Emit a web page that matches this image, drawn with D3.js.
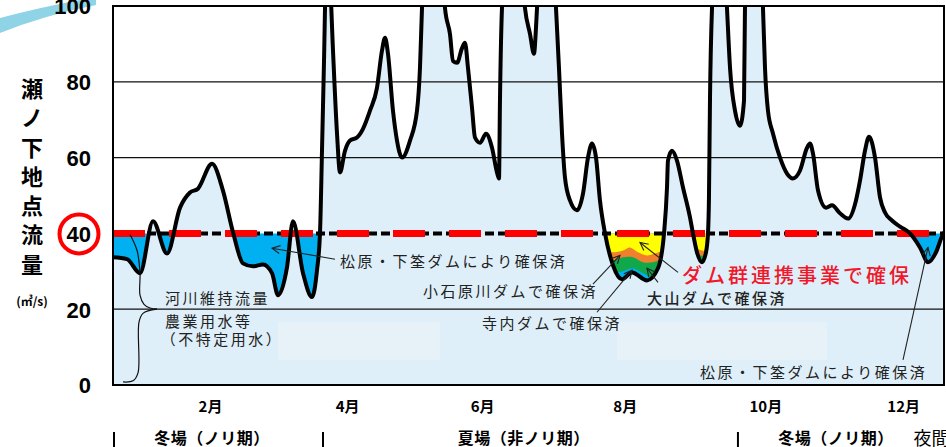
<!DOCTYPE html>
<html><head><meta charset="utf-8">
<script src="https://cdn.jsdelivr.net/npm/d3@7"></script>
<style>
body{margin:0;background:#fff;overflow:hidden;}
svg{display:block;}
</style></head><body>
<svg id="c" width="946" height="447"></svg>
<script>
// ---- data (x in months from Jan 1, 0..12; y in m3/s) ----
const flowT = [0,0.202,0.390,0.578,0.780,0.968,1.112,1.227,1.430,1.588,1.733,1.877,2.022,2.166,2.296,2.383,2.513,2.599,2.744,2.874,2.946,2.989,3.018,3.047,3.076,3.105,3.134,3.177,3.235,3.278,3.350,3.422,3.523,3.610,3.711,3.812,3.884,3.928,3.971,4.043,4.101,4.173,4.289,4.390,4.433,4.462,4.505,4.621,4.736,4.794,4.866,4.910,4.968,5.040,5.083,5.126,5.184,5.227,5.300,5.386,5.473,5.545,5.574,5.588,5.617,5.690,5.776,5.877,5.949,6.022,6.079,6.108,6.123,6.195,6.267,6.339,6.397,6.440,6.484,6.527,6.599,6.700,6.787,6.859,6.917,6.975,7.032,7.105,7.220,7.350,7.495,7.711,7.870,7.957,8.000,8.014,8.072,8.144,8.231,8.332,8.375,8.433,8.505,8.563,8.592,8.606,8.621,8.650,8.708,8.765,8.823,8.866,8.910,8.982,9.054,9.112,9.126,9.199,9.256,9.329,9.386,9.415,9.458,9.531,9.632,9.733,9.819,9.921,10.022,10.065,10.108,10.181,10.296,10.383,10.498,10.614,10.729,10.787,10.859,10.917,11.004,11.076,11.148,11.249,11.365,11.509,11.653,11.769,11.884,11.971,12.0];
const flowV = [33.7,33.2,29.5,43.2,34.7,46.8,50.8,51.8,58.4,51.3,40.3,32.1,31.3,31.8,29.5,23.7,31.1,43.2,29.5,23.2,30.3,40,61.8,85.5,109,112,106.6,88.2,66.3,56.1,61.8,64.5,65.3,67.6,72.4,78.4,88.2,91.6,87.4,72.4,64.5,60,64.5,72.4,83.7,99.5,117,125,117,99.5,92.6,85.5,85.0,88.9,90.3,83.7,73.2,65.3,63.9,66.3,62.6,56.1,54.5,75,99.5,117,122,117,99.5,92.6,87.4,94.2,99.5,117,119.7,117,99.5,83.7,66.3,54.7,48.7,46.1,50.5,60,63.7,60,48.7,40,31.6,27.9,29.7,27.6,30.8,40,52.1,59.2,61.8,59.2,52.1,44.2,40,35,32.4,35,40,49.5,75.8,99.5,114.5,117,114.5,99.5,83.7,72.4,68.4,75,99.5,117,119.7,117,99.5,83.7,72.4,66.3,60,55.8,54.5,56.6,62.6,63.7,61.1,51.3,46.8,47.4,45.3,43.9,48.7,53.9,61.8,65.5,60,49.5,45.5,43.4,41.8,40,36.3,32.4,35,39.2,40.3];

const targetFlow = 40;

// dam supplement band tops (August shortage)
const orangeT = [7.0,7.105,7.206,7.365,7.466,7.581,7.711,7.827,7.957,8.2,8.303,8.404,8.505,8.621,8.7];
const orangeV = [35.5,35.5,35,35.5,36.3,35,34.2,34.7,35.5,35.5,35.5,36.1,35.5,35.5,35.5];
const greenT = [7.0,7.105,7.206,7.365,7.509,7.653,7.798,7.957,8.2,8.332,8.477,8.621,8.7];
const greenV = [33.4,33.4,32.9,33.7,33.7,32.4,32.4,33.4,33.9,33.9,34.2,33.9,33.9];
const blueT = [7.0,7.105,7.264,7.408,7.509,7.653,7.798,7.957,8.2,8.7];
const blueV = [30.3,30.3,29.7,30.3,30.8,29.5,28.4,29.7,20,20];
const bandRange = [7.0, 8.7];

const yTicks = [0,20,40,60,80,100];
const monthTickPos = [1.40,3.38,5.33,7.39,9.42,11.41];
const monthLabels = ["2月","4月","6月","8月","10月","12月"];

const seasonLabels = ["冬場（ノリ期）","夏場（非ノリ期）","冬場（ノリ期）"];
const seasonCenters = [1.43,5.93,10.44];
const seasonBars = [0,3.018,9.01];

const yTitleChars = ["瀬","ノ","下","地","点","流","量"];

const noteTexts = ["松原・下筌ダムにより確保済","小石原川ダムで確保済","寺内ダムで確保済","ダム群連携事業で確保","大山ダムで確保済","松原・下筌ダムにより確保済","河川維持流量","農業用水等","（不特定用水）"];
const noteT = [3.278,4.477,5.329,8.217,7.711,8.477,0.751,0.751,0.69];
const noteV = [32.6,24.7,16.1,28.9,22.9,3.2,22.9,16.8,12.1];

const arrowFromT = [3.206,6.931,6.989,8.159,7.870,11.408];
const arrowFromV = [33.2,26.6,19.2,29.7,27.1,6.6];
const arrowToT = [2.296,7.321,7.495,7.610,7.711,11.769];
const arrowToV = [36.1,34.2,30.3,37.6,30.8,36.3];

const braceUpperT = [0.245,0.347,0.390,0.390,0.448,0.534,0.635];
const braceUpperV = [39.7,35.5,29.5,23.7,21.3,20.3,20.0];
const braceLowerT = [0.635,0.433,0.375,0.361,0.289,0.144];
const braceLowerV = [20,18.9,16.6,3.2,1.1,0.8];

const boxT0 = [2.383,7.278], boxT1 = [4.722,10.31], boxV0 = [6.6,6.6], boxV1 = [16.6,16.6];

// ---- drawing ----
const svg = d3.select("#c");
const x = d3.scaleLinear().domain([0,12]).range([113,944]);
const y = d3.scaleLinear().domain([0,100]).range([385,6]);
const CJK = "'Noto Sans CJK JP','Noto Sans',sans-serif";

const flow = flowT.map((t,i)=>({t, v:flowV[i]}));
const defs = svg.append("defs");
defs.append("clipPath").attr("id","plot").append("rect")
  .attr("x",x(0)).attr("y",y(100)).attr("width",x(12)-x(0)).attr("height",y(0)-y(100));
const curve = d3.curveMonotoneX;
defs.append("clipPath").attr("id","above").append("path")
  .attr("d", d3.area().x(d=>x(d.t)).y0(y(130)).y1(d=>y(d.v)).curve(curve)(flow));
defs.append("marker").attr("id","arr").attr("viewBox","-10 -6 12 12")
  .attr("markerWidth",12).attr("markerHeight",12).attr("markerUnits","userSpaceOnUse")
  .attr("refX",0).attr("refY",0).attr("orient","auto")
  .append("path").attr("d","M-8,-4L0,0L-8,4").attr("fill","none").attr("stroke","#222").attr("stroke-width",1.1);

// decorative swoosh
svg.append("path").attr("d","M0,18 Q45,6 96,-3 L96,5 Q45,15 0,33 Z").attr("fill","#8fd3e7");

const plot = svg.append("g").attr("clip-path","url(#plot)");
plot.append("rect").attr("x",x(0)).attr("y",y(100)).attr("width",x(12)-x(0)).attr("height",y(0)-y(100)).attr("fill","#fff");
plot.append("path").attr("fill","#deeff9")
  .attr("d", d3.area().x(d=>x(d.t)).y0(y(0)).y1(d=>y(d.v)).curve(curve)(flow));

// faint boxes
plot.selectAll(".box").data(boxT0).join("rect")
  .attr("x",(d,i)=>x(boxT0[i])).attr("width",(d,i)=>x(boxT1[i])-x(boxT0[i]))
  .attr("y",(d,i)=>y(boxV1[i])).attr("height",(d,i)=>y(boxV0[i])-y(boxV1[i]))
  .attr("fill","#e6f2f8");

// shortage fills (above curve, below 40)
const short = plot.append("g").attr("clip-path","url(#above)");
short.append("path").attr("fill","#00b0f0")
  .attr("d", d3.area().x(d=>x(d)).y0(y(0)).y1(y(targetFlow))([0,12]));
short.append("path").attr("fill","#ffff00")
  .attr("d", d3.area().x(d=>x(d)).y0(y(0)).y1(y(targetFlow))(bandRange));
const band = (T,V,col)=>short.append("path").attr("fill",col)
  .attr("d", d3.area().x(d=>x(d.t)).y0(y(0)).y1(d=>y(d.v)).curve(d3.curveCatmullRom)(T.map((t,i)=>({t,v:V[i]}))));
band(orangeT,orangeV,"#f0802c");
band(greenT,greenV,"#10a84a");
band(blueT,blueV,"#00b0f0");

// gridlines
plot.selectAll(".grid").data([20,60,80]).join("line")
  .attr("x1",x(0)).attr("x2",x(12)).attr("y1",d=>y(d)).attr("y2",d=>y(d))
  .attr("stroke","#111").attr("stroke-width",1.2);

// 40 line
plot.append("line").attr("x1",x(0)).attr("x2",x(12)).attr("y1",y(targetFlow)).attr("y2",y(targetFlow))
  .attr("stroke","#000").attr("stroke-width",4).attr("stroke-dasharray","9,4").attr("stroke-dashoffset",-34);
plot.append("line").attr("x1",x(0)).attr("x2",x(12)).attr("y1",y(targetFlow)).attr("y2",y(targetFlow))
  .attr("stroke","#ff0000").attr("stroke-width",7).attr("stroke-dasharray","32,24");

// flow curve
plot.append("path").attr("fill","none").attr("stroke","#000").attr("stroke-width",4).attr("stroke-linejoin","round")
  .attr("d", d3.line().x(d=>x(d.t)).y(d=>y(d.v)).curve(curve)(flow));

// frame
svg.append("rect").attr("x",x(0)).attr("y",y(100)).attr("width",x(12)-x(0)).attr("height",y(0)-y(100))
  .attr("fill","none").attr("stroke","#000").attr("stroke-width",2);

// braces
const bl = d3.line().x(d=>x(d.t)).y(d=>y(d.v)).curve(d3.curveCatmullRom);
[[braceUpperT,braceUpperV],[braceLowerT,braceLowerV]].forEach(([T,V])=>{
  svg.append("path").attr("fill","none").attr("stroke","#111").attr("stroke-width",1.2)
    .attr("d", bl(T.map((t,i)=>({t,v:V[i]}))));
});

// arrows
svg.selectAll(".arrow").data(arrowFromT).join("line")
  .attr("x1",(d,i)=>x(arrowFromT[i])).attr("y1",(d,i)=>y(arrowFromV[i]))
  .attr("x2",(d,i)=>x(arrowToT[i])).attr("y2",(d,i)=>y(arrowToV[i]))
  .attr("stroke","#222").attr("stroke-width",1.1).attr("marker-end","url(#arr)");

// notes
svg.selectAll(".note").data(noteTexts).join("text")
  .attr("x",(d,i)=>x(noteT[i])).attr("y",(d,i)=>y(noteV[i]))
  .attr("dy","0.36em")
  .attr("font-family",CJK)
  .attr("font-size",(d,i)=>i===3?20:15)
  .attr("letter-spacing",(d,i)=>i===3?"3px":"2.5px")
  .attr("font-weight",(d,i)=>i===3||i===4?500:400)
  .attr("fill",(d,i)=>i===3?"#f0182a":"#222")
  .text(d=>d);

// y axis
const ya = svg.append("g").attr("transform",`translate(${x(0)},0)`)
  .call(d3.axisLeft(y).tickValues(yTicks).tickSize(0).tickPadding(22));
ya.select(".domain").remove();
ya.selectAll(".tick").filter(d=>d===targetFlow).insert("circle","text")
  .attr("cx",-34).attr("cy",0).attr("r",19.5).attr("fill","#fff").attr("stroke","#ff0000").attr("stroke-width",4);
ya.selectAll("text").attr("font-family","'Liberation Sans',Arial,sans-serif").attr("font-weight","bold")
  .attr("font-size",22).attr("fill","#000").attr("dy","0.36em");

// y title
svg.selectAll(".yt").data(yTitleChars).join("text")
  .attr("x",32).attr("y",(d,i)=>89+i*29.3).attr("dy","0.36em").attr("text-anchor","middle")
  .attr("font-family",CJK).attr("font-weight","bold").attr("font-size",22).attr("fill","#000").text(d=>d);
svg.append("text").attr("x",32).attr("y",302).attr("dy","0.36em").attr("text-anchor","middle")
  .attr("font-family",CJK).attr("font-weight","bold").attr("font-size",12).attr("fill","#000").text("(㎥/s)");

// x axis
const xa = svg.append("g").attr("transform",`translate(0,${y(0)})`)
  .call(d3.axisBottom(x).tickValues(monthTickPos).tickFormat((d,i)=>monthLabels[i]).tickSize(0).tickPadding(16));
xa.select(".domain").remove();
xa.selectAll("text").attr("font-family",CJK).attr("font-weight","bold").attr("font-size",15).attr("fill","#000");

// seasons
svg.selectAll(".season").data(seasonLabels).join("text")
  .attr("x",(d,i)=>x(seasonCenters[i])).attr("y",444).attr("text-anchor","middle")
  .attr("font-family",CJK).attr("font-weight","bold").attr("font-size",16).attr("letter-spacing","0.5px").attr("fill","#000").text(d=>d);
svg.selectAll(".sbar").data(seasonBars).join("line")
  .attr("x1",d=>x(d)+1).attr("x2",d=>x(d)+1).attr("y1",432).attr("y2",447).attr("stroke","#000").attr("stroke-width",2);
svg.append("text").attr("x",x(11.56)).attr("y",445).attr("font-family",CJK).attr("font-size",18).attr("fill","#000").text("夜間");
</script>
</body></html>
